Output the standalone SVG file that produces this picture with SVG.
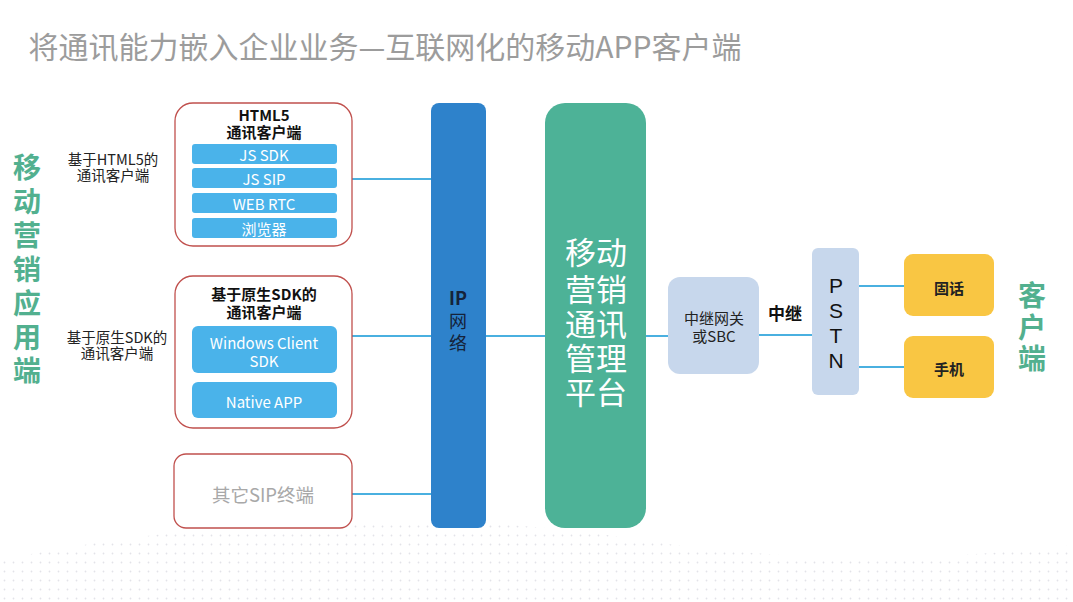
<svg xmlns="http://www.w3.org/2000/svg" width="1073" height="602" viewBox="0 0 1073 602">
<defs>
<pattern id="dots" width="9" height="9" patternUnits="userSpaceOnUse">
<circle cx="4.5" cy="4.5" r="0.9" fill="#e3e3e8"/>
</pattern>
</defs>
<style>
text{font-family:"Noto Sans CJK SC","Noto Sans",sans-serif;text-anchor:middle;dominant-baseline:central}
.frame{fill:#fff;stroke:#c0504d;stroke-width:1.3}
.bar{fill:#4ab3ea}
.bt{fill:#fff;font-size:15px}
.lbl{fill:#222;font-size:14.5px}
.hd{fill:#111;font-size:15px;font-weight:bold}
.side{fill:#52b08f;font-size:28px;font-weight:bold}
.gw{fill:#c7d7ec}
.yl{fill:#f9c643}
.conn{stroke:#4ab0e0;stroke-width:2;fill:none}
</style>
<rect width="1073" height="602" fill="#fff"/>
<path d="M0 560 C200 520 420 505 640 540 C800 565 950 560 1073 545 L1073 602 L0 602 Z" fill="url(#dots)"/>
<text x="385" y="45" style="font-size:30px;fill:#9c9c9c">将通讯能力嵌入企业业务—互联网化的移动APP客户端</text>
<g id="side-left">
<text class="side" x="27" y="166">移</text>
<text class="side" x="27" y="200">动</text>
<text class="side" x="27" y="234">营</text>
<text class="side" x="27" y="268">销</text>
<text class="side" x="27" y="302">应</text>
<text class="side" x="27" y="336">用</text>
<text class="side" x="27" y="369">端</text>
</g>
<g id="connectors">
<line class="conn" x1="352" y1="179" x2="431" y2="179"/>
<line class="conn" x1="352" y1="336" x2="431" y2="336"/>
<line class="conn" x1="352" y1="494" x2="431" y2="494"/>
<line class="conn" x1="486" y1="336" x2="545" y2="336"/>
<line class="conn" x1="646" y1="336" x2="668" y2="336"/>
<line class="conn" x1="759" y1="335" x2="812" y2="335"/>
<line class="conn" x1="859" y1="286" x2="904" y2="286"/>
<line class="conn" x1="859" y1="367" x2="904" y2="367"/>
</g>
<g id="label-html5">
<text class="lbl" x="113" y="158">基于HTML5的</text>
<text class="lbl" x="113" y="174">通讯客户端</text>
</g>
<g id="html5-client">
<rect class="frame" x="175" y="103" width="177" height="143" rx="18"/>
<text class="hd" x="264" y="114">HTML5</text>
<text class="hd" x="264" y="131">通讯客户端</text>
<rect class="bar" x="192" y="144" width="145" height="20" rx="3"/>
<text class="bt" x="264" y="154">JS SDK</text>
<rect class="bar" x="192" y="168" width="145" height="20" rx="3"/>
<text class="bt" x="264" y="178">JS SIP</text>
<rect class="bar" x="192" y="193" width="145" height="20" rx="3"/>
<text class="bt" x="264" y="203">WEB RTC</text>
<rect class="bar" x="192" y="218" width="145" height="20" rx="3"/>
<text class="bt" x="264" y="228">浏览器</text>
</g>
<g id="label-native">
<text class="lbl" x="117" y="336">基于原生SDK的</text>
<text class="lbl" x="117" y="352">通讯客户端</text>
</g>
<g id="native-client">
<rect class="frame" x="175" y="276" width="177" height="152" rx="18"/>
<text class="hd" x="264" y="293">基于原生SDK的</text>
<text class="hd" x="264" y="311">通讯客户端</text>
<rect class="bar" x="192" y="326" width="145" height="47" rx="6"/>
<text class="bt" x="264" y="342">Windows Client</text>
<text class="bt" x="264" y="360">SDK</text>
<rect class="bar" x="192" y="382" width="145" height="36" rx="6"/>
<text class="bt" x="264" y="401">Native APP</text>
</g>
<g id="sip-terminal">
<rect class="frame" x="174" y="454" width="178" height="74" rx="12"/>
<text x="263" y="494" style="font-size:18.5px;fill:#a8a8a8">其它SIP终端</text>
</g>
<g id="ip-network">
<rect x="431" y="103" width="55" height="425" rx="8" fill="#2e82cb"/>
<text x="458" y="297" style="font-size:18px;fill:#15233a;font-weight:bold">IP</text>
<text x="458" y="320" style="font-size:18px;fill:#15233a">网</text>
<text x="458" y="342" style="font-size:18px;fill:#15233a">络</text>
</g>
<g id="platform">
<rect x="545" y="103" width="101" height="425" rx="20" fill="#4db297"/>
<text x="596" y="250" style="font-size:31px;fill:#fff">移动</text>
<text x="596" y="287" style="font-size:31px;fill:#fff">营销</text>
<text x="596" y="322" style="font-size:31px;fill:#fff">通讯</text>
<text x="596" y="356" style="font-size:31px;fill:#fff">管理</text>
<text x="596" y="390" style="font-size:31px;fill:#fff">平台</text>
</g>
<g id="gateway">
<rect class="gw" x="668" y="277" width="91" height="97" rx="12"/>
<text x="714" y="317" style="font-size:15px;fill:#222">中继网关</text>
<text x="714" y="335" style="font-size:15px;fill:#222">或SBC</text>
</g>
<g id="trunk-label">
<text x="785" y="312" style="font-size:17px;fill:#111;font-weight:bold">中继</text>
</g>
<g id="pstn">
<rect class="gw" x="812" y="248" width="47" height="147" rx="6"/>
<text x="836" y="285" style="font-size:21px;fill:#111;font-family:'Liberation Sans',sans-serif">P</text>
<text x="836" y="310" style="font-size:21px;fill:#111;font-family:'Liberation Sans',sans-serif">S</text>
<text x="836" y="335" style="font-size:21px;fill:#111;font-family:'Liberation Sans',sans-serif">T</text>
<text x="836" y="360" style="font-size:21px;fill:#111;font-family:'Liberation Sans',sans-serif">N</text>
</g>
<g id="landline">
<rect class="yl" x="904" y="254" width="90" height="62" rx="9"/>
<text x="949" y="287" style="font-size:15px;fill:#222;font-weight:bold">固话</text>
</g>
<g id="mobile">
<rect class="yl" x="904" y="336" width="90" height="62" rx="9"/>
<text x="949" y="368" style="font-size:15px;fill:#222;font-weight:bold">手机</text>
</g>
<g id="side-right">
<text class="side" x="1032" y="294">客</text>
<text class="side" x="1032" y="326">户</text>
<text class="side" x="1032" y="357">端</text>
</g>
</svg>
